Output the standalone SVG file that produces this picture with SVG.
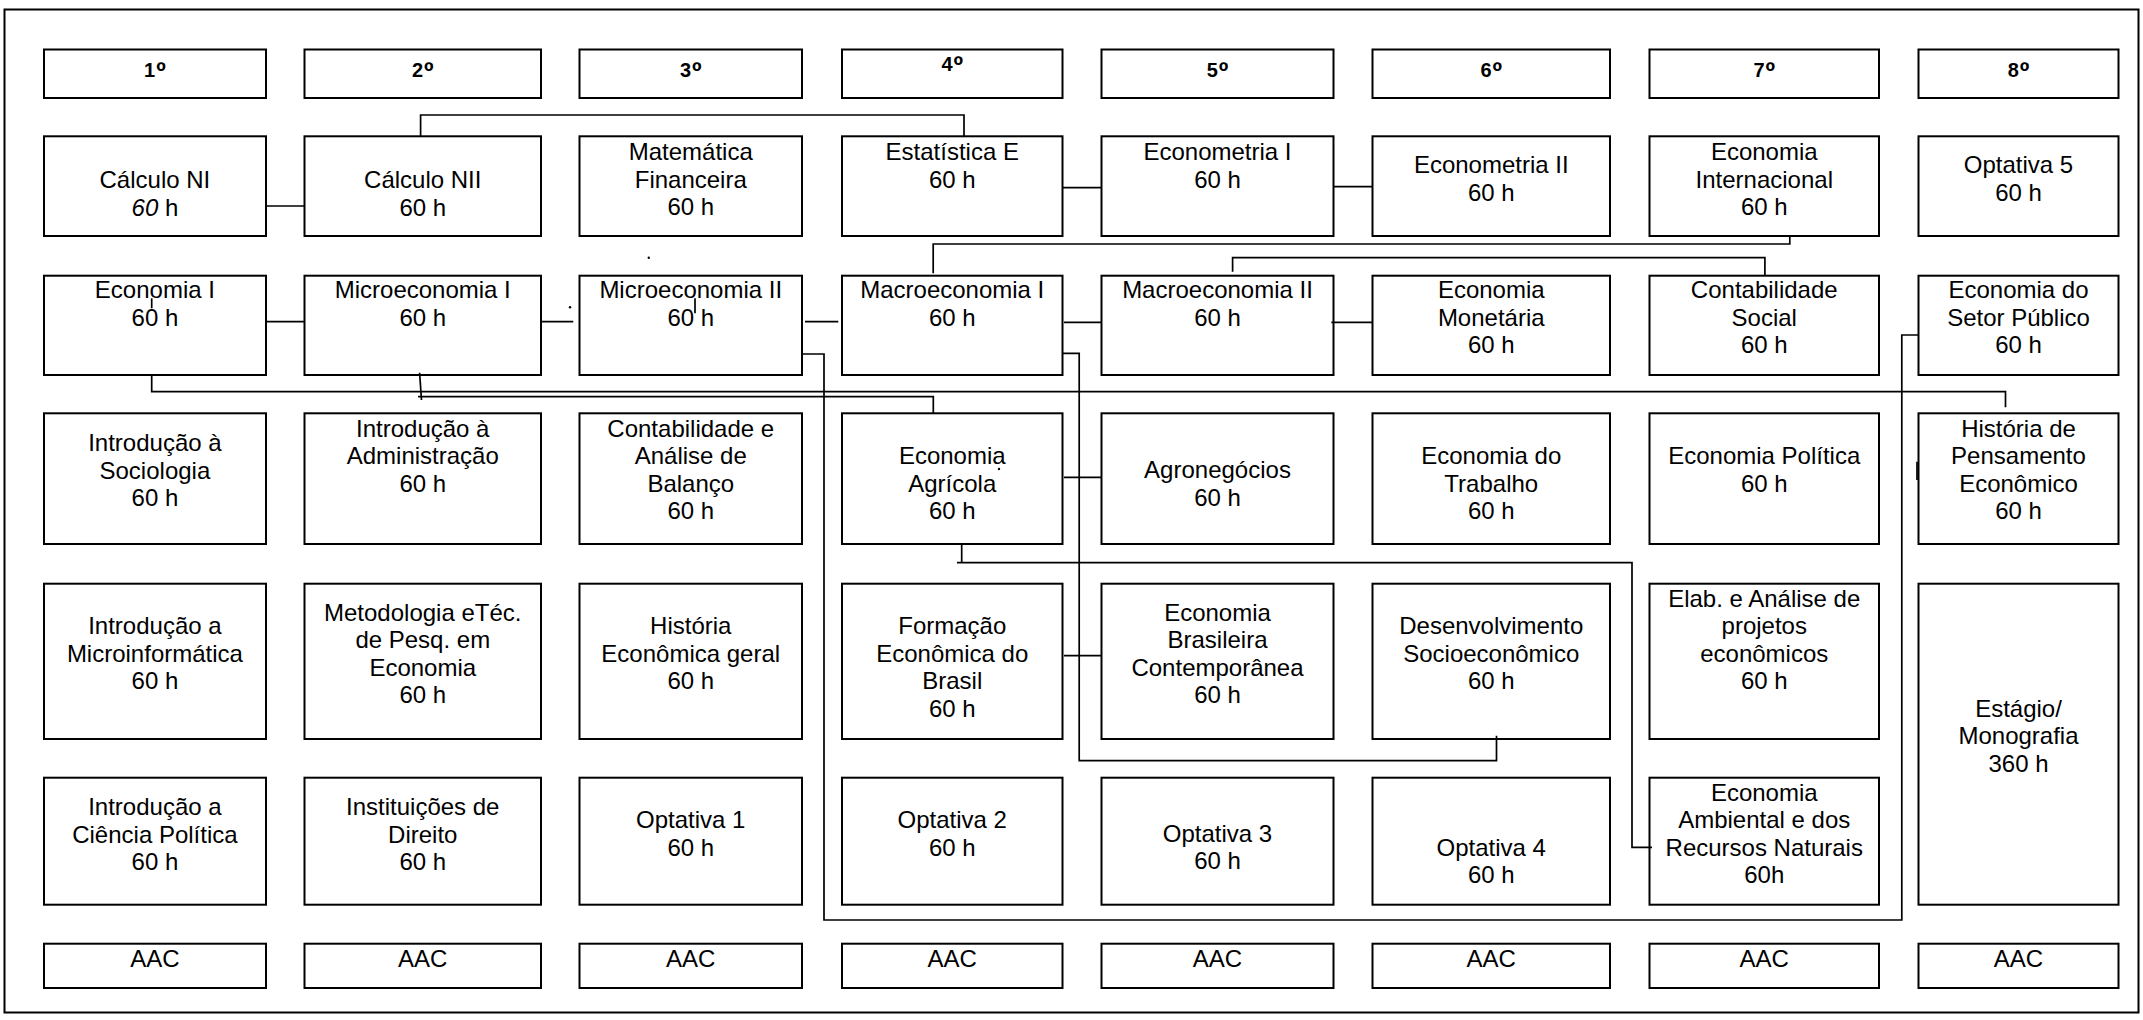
<svg xmlns="http://www.w3.org/2000/svg" width="2143" height="1020" viewBox="0 0 2143 1020">
<style>
.box{fill:#fff;stroke:#000;stroke-width:2}
.t{font-family:"Liberation Sans",Arial,sans-serif;font-size:24px;text-anchor:middle;fill:#000}
.h{font-weight:bold;font-size:20px}
.o{font-size:26px}
.c{fill:none;stroke:#000;stroke-width:1.7}
</style>
<rect x="0" y="0" width="2143" height="1020" fill="#fff"/>
<rect x="4.5" y="9.5" width="2134" height="1003" fill="none" stroke="#000" stroke-width="2"/>
<g id="headers">
<g id="h1"><rect class="box" x="44" y="49.5" width="222" height="48.5"/><text class="t h" x="154.9" y="76.5">1<tspan class="o" dx="1" dy="3">º</tspan></text></g>
<g id="h2"><rect class="box" x="304.5" y="49.5" width="236.5" height="48.5"/><text class="t h" x="422.75" y="76.5">2<tspan class="o" dx="1" dy="3">º</tspan></text></g>
<g id="h3"><rect class="box" x="579.5" y="49.5" width="222.5" height="48.5"/><text class="t h" x="690.75" y="76.5">3<tspan class="o" dx="1" dy="3">º</tspan></text></g>
<g id="h4"><rect class="box" x="842" y="49.5" width="220.5" height="48.5"/><text class="t h" x="952.25" y="71">4<tspan class="o" dx="1" dy="3">º</tspan></text></g>
<g id="h5"><rect class="box" x="1101.5" y="49.5" width="232" height="48.5"/><text class="t h" x="1217.5" y="76.5">5<tspan class="o" dx="1" dy="3">º</tspan></text></g>
<g id="h6"><rect class="box" x="1372.5" y="49.5" width="237.5" height="48.5"/><text class="t h" x="1491.25" y="76.5">6<tspan class="o" dx="1" dy="3">º</tspan></text></g>
<g id="h7"><rect class="box" x="1649.5" y="49.5" width="229.5" height="48.5"/><text class="t h" x="1764.25" y="76.5">7<tspan class="o" dx="1" dy="3">º</tspan></text></g>
<g id="h8"><rect class="box" x="1918.5" y="49.5" width="200" height="48.5"/><text class="t h" x="2018.5" y="76.5">8<tspan class="o" dx="1" dy="3">º</tspan></text></g>
</g>
<g id="row1">
<g id="calculo1"><rect class="box" x="44" y="136.3" width="222" height="99.7"/><text class="t" x="154.9" y="188.3">Cálculo NI</text><text class="t" x="154.9" y="216"><tspan font-style="italic">60</tspan> h</text></g>
<g id="calculo2"><rect class="box" x="304.5" y="136.3" width="236.5" height="99.7"/><text class="t" x="422.75" y="188.3">Cálculo NII</text><text class="t" x="422.75" y="216">60 h</text></g>
<g id="matfin"><rect class="box" x="579.5" y="136.3" width="222.5" height="99.7"/><text class="t" x="690.75" y="160">Matemática</text><text class="t" x="690.75" y="187.7">Financeira</text><text class="t" x="690.75" y="215">60 h</text></g>
<g id="estatistica"><rect class="box" x="842" y="136.3" width="220.5" height="99.7"/><text class="t" x="952.25" y="160">Estatística E</text><text class="t" x="952.25" y="187.7">60 h</text></g>
<g id="econometria1"><rect class="box" x="1101.5" y="136.3" width="232" height="99.7"/><text class="t" x="1217.5" y="160">Econometria I</text><text class="t" x="1217.5" y="187.7">60 h</text></g>
<g id="econometria2"><rect class="box" x="1372.5" y="136.3" width="237.5" height="99.7"/><text class="t" x="1491.25" y="173.3">Econometria II</text><text class="t" x="1491.25" y="201">60 h</text></g>
<g id="econinter"><rect class="box" x="1649.5" y="136.3" width="229.5" height="99.7"/><text class="t" x="1764.25" y="160">Economia</text><text class="t" x="1764.25" y="187.7">Internacional</text><text class="t" x="1764.25" y="215">60 h</text></g>
<g id="optativa5"><rect class="box" x="1918.5" y="136.3" width="200" height="99.7"/><text class="t" x="2018.5" y="173.3">Optativa 5</text><text class="t" x="2018.5" y="201">60 h</text></g>
</g>
<g id="row2">
<g id="economia1"><rect class="box" x="44" y="275.7" width="222" height="99.3"/><text class="t" x="154.9" y="298.3">Economia I</text><text class="t" x="154.9" y="325.7">60 h</text></g>
<g id="micro1"><rect class="box" x="304.5" y="275.7" width="236.5" height="99.3"/><text class="t" x="422.75" y="298.3">Microeconomia I</text><text class="t" x="422.75" y="325.7">60 h</text></g>
<g id="micro2"><rect class="box" x="579.5" y="275.7" width="222.5" height="99.3"/><text class="t" x="690.75" y="298.3">Microeconomia II</text><text class="t" x="690.75" y="325.7">60 h</text></g>
<g id="macro1"><rect class="box" x="842" y="275.7" width="220.5" height="99.3"/><text class="t" x="952.25" y="298.3">Macroeconomia I</text><text class="t" x="952.25" y="325.7">60 h</text></g>
<g id="macro2"><rect class="box" x="1101.5" y="275.7" width="232" height="99.3"/><text class="t" x="1217.5" y="298.3">Macroeconomia II</text><text class="t" x="1217.5" y="325.7">60 h</text></g>
<g id="econmonetaria"><rect class="box" x="1372.5" y="275.7" width="237.5" height="99.3"/><text class="t" x="1491.25" y="298.3">Economia</text><text class="t" x="1491.25" y="325.7">Monetária</text><text class="t" x="1491.25" y="353.3">60 h</text></g>
<g id="contsocial"><rect class="box" x="1649.5" y="275.7" width="229.5" height="99.3"/><text class="t" x="1764.25" y="298.3">Contabilidade</text><text class="t" x="1764.25" y="325.7">Social</text><text class="t" x="1764.25" y="353.3">60 h</text></g>
<g id="setorpublico"><rect class="box" x="1918.5" y="275.7" width="200" height="99.3"/><text class="t" x="2018.5" y="298.3">Economia do</text><text class="t" x="2018.5" y="325.7">Setor Público</text><text class="t" x="2018.5" y="353.3">60 h</text></g>
</g>
<g id="row3">
<g id="sociologia"><rect class="box" x="44" y="413.3" width="222" height="130.7"/><text class="t" x="154.9" y="451">Introdução à</text><text class="t" x="154.9" y="478.5">Sociologia</text><text class="t" x="154.9" y="506">60 h</text></g>
<g id="administracao"><rect class="box" x="304.5" y="413.3" width="236.5" height="130.7"/><text class="t" x="422.75" y="436.7">Introdução à</text><text class="t" x="422.75" y="464.3">Administração</text><text class="t" x="422.75" y="491.7">60 h</text></g>
<g id="contabilidade"><rect class="box" x="579.5" y="413.3" width="222.5" height="130.7"/><text class="t" x="690.75" y="436.7">Contabilidade e</text><text class="t" x="690.75" y="464.3">Análise de</text><text class="t" x="690.75" y="491.7">Balanço</text><text class="t" x="690.75" y="519.3">60 h</text></g>
<g id="agricola"><rect class="box" x="842" y="413.3" width="220.5" height="130.7"/><text class="t" x="952.25" y="464.3">Economia</text><text class="t" x="952.25" y="491.7">Agrícola</text><text class="t" x="952.25" y="519.3">60 h</text></g>
<g id="agronegocios"><rect class="box" x="1101.5" y="413.3" width="232" height="130.7"/><text class="t" x="1217.5" y="478.3">Agronegócios</text><text class="t" x="1217.5" y="505.7">60 h</text></g>
<g id="trabalho"><rect class="box" x="1372.5" y="413.3" width="237.5" height="130.7"/><text class="t" x="1491.25" y="464.3">Economia do</text><text class="t" x="1491.25" y="491.7">Trabalho</text><text class="t" x="1491.25" y="519.3">60 h</text></g>
<g id="politica"><rect class="box" x="1649.5" y="413.3" width="229.5" height="130.7"/><text class="t" x="1764.25" y="464.3">Economia Política</text><text class="t" x="1764.25" y="491.7">60 h</text></g>
<g id="pensamento"><rect class="box" x="1918.5" y="413.3" width="200" height="130.7"/><text class="t" x="2018.5" y="436.7">História de</text><text class="t" x="2018.5" y="464.3">Pensamento</text><text class="t" x="2018.5" y="491.7">Econômico</text><text class="t" x="2018.5" y="519.3">60 h</text></g>
</g>
<g id="row4">
<g id="microinformatica"><rect class="box" x="44" y="583.7" width="222" height="155.3"/><text class="t" x="154.9" y="634.3">Introdução a</text><text class="t" x="154.9" y="661.7">Microinformática</text><text class="t" x="154.9" y="689">60 h</text></g>
<g id="metodologia"><rect class="box" x="304.5" y="583.7" width="236.5" height="155.3"/><text class="t" x="422.75" y="620.7">Metodologia eTéc.</text><text class="t" x="422.75" y="648.3">de Pesq. em</text><text class="t" x="422.75" y="675.7">Economia</text><text class="t" x="422.75" y="703.3">60 h</text></g>
<g id="histeconomica"><rect class="box" x="579.5" y="583.7" width="222.5" height="155.3"/><text class="t" x="690.75" y="634.3">História</text><text class="t" x="690.75" y="661.7">Econômica geral</text><text class="t" x="690.75" y="689">60 h</text></g>
<g id="formacao"><rect class="box" x="842" y="583.7" width="220.5" height="155.3"/><text class="t" x="952.25" y="634.3">Formação</text><text class="t" x="952.25" y="661.7">Econômica do</text><text class="t" x="952.25" y="689">Brasil</text><text class="t" x="952.25" y="716.7">60 h</text></g>
<g id="brasileira"><rect class="box" x="1101.5" y="583.7" width="232" height="155.3"/><text class="t" x="1217.5" y="620.7">Economia</text><text class="t" x="1217.5" y="648.3">Brasileira</text><text class="t" x="1217.5" y="675.7">Contemporânea</text><text class="t" x="1217.5" y="703.3">60 h</text></g>
<g id="desenvolvimento"><rect class="box" x="1372.5" y="583.7" width="237.5" height="155.3"/><text class="t" x="1491.25" y="634.3">Desenvolvimento</text><text class="t" x="1491.25" y="661.7">Socioeconômico</text><text class="t" x="1491.25" y="689">60 h</text></g>
<g id="projetos"><rect class="box" x="1649.5" y="583.7" width="229.5" height="155.3"/><text class="t" x="1764.25" y="606.7">Elab. e Análise de</text><text class="t" x="1764.25" y="634.3">projetos</text><text class="t" x="1764.25" y="661.7">econômicos</text><text class="t" x="1764.25" y="689">60 h</text></g>
<g id="estagio"><rect class="box" x="1918.5" y="583.7" width="200" height="321"/><text class="t" x="2018.5" y="716.7">Estágio/</text><text class="t" x="2018.5" y="744">Monografia</text><text class="t" x="2018.5" y="772.3">360 h</text></g>
</g>
<g id="row5">
<g id="cienciapolitica"><rect class="box" x="44" y="777.7" width="222" height="127"/><text class="t" x="154.9" y="815">Introdução a</text><text class="t" x="154.9" y="842.7">Ciência Política</text><text class="t" x="154.9" y="870">60 h</text></g>
<g id="direito"><rect class="box" x="304.5" y="777.7" width="236.5" height="127"/><text class="t" x="422.75" y="815">Instituições de</text><text class="t" x="422.75" y="842.7">Direito</text><text class="t" x="422.75" y="870">60 h</text></g>
<g id="optativa1"><rect class="box" x="579.5" y="777.7" width="222.5" height="127"/><text class="t" x="690.75" y="828.3">Optativa 1</text><text class="t" x="690.75" y="855.7">60 h</text></g>
<g id="optativa2"><rect class="box" x="842" y="777.7" width="220.5" height="127"/><text class="t" x="952.25" y="828.3">Optativa 2</text><text class="t" x="952.25" y="855.7">60 h</text></g>
<g id="optativa3"><rect class="box" x="1101.5" y="777.7" width="232" height="127"/><text class="t" x="1217.5" y="841.7">Optativa 3</text><text class="t" x="1217.5" y="869">60 h</text></g>
<g id="optativa4"><rect class="box" x="1372.5" y="777.7" width="237.5" height="127"/><text class="t" x="1491.25" y="855.7">Optativa 4</text><text class="t" x="1491.25" y="883.3">60 h</text></g>
<g id="ambiental"><rect class="box" x="1649.5" y="777.7" width="229.5" height="127"/><text class="t" x="1764.25" y="801">Economia</text><text class="t" x="1764.25" y="828.3">Ambiental e dos</text><text class="t" x="1764.25" y="855.7">Recursos Naturais</text><text class="t" x="1764.25" y="883.3">60h</text></g>
</g>
<g id="aac">
<g id="aac1"><rect class="box" x="44" y="943.7" width="222" height="44.3"/><text class="t" x="154.9" y="966.7">AAC</text></g>
<g id="aac2"><rect class="box" x="304.5" y="943.7" width="236.5" height="44.3"/><text class="t" x="422.75" y="966.7">AAC</text></g>
<g id="aac3"><rect class="box" x="579.5" y="943.7" width="222.5" height="44.3"/><text class="t" x="690.75" y="966.7">AAC</text></g>
<g id="aac4"><rect class="box" x="842" y="943.7" width="220.5" height="44.3"/><text class="t" x="952.25" y="966.7">AAC</text></g>
<g id="aac5"><rect class="box" x="1101.5" y="943.7" width="232" height="44.3"/><text class="t" x="1217.5" y="966.7">AAC</text></g>
<g id="aac6"><rect class="box" x="1372.5" y="943.7" width="237.5" height="44.3"/><text class="t" x="1491.25" y="966.7">AAC</text></g>
<g id="aac7"><rect class="box" x="1649.5" y="943.7" width="229.5" height="44.3"/><text class="t" x="1764.25" y="966.7">AAC</text></g>
<g id="aac8"><rect class="box" x="1918.5" y="943.7" width="200" height="44.3"/><text class="t" x="2018.5" y="966.7">AAC</text></g>
</g>
<g id="connectors">
<path class="c" d="M266,206 H304.5"/>
<path class="c" d="M420.6,136.3 V115 H964 V136.3"/>
<path class="c" d="M1062.5,187.7 H1101.5"/>
<path class="c" d="M1333.5,186.7 H1372.5"/>
<path class="c" d="M1789.8,236 V244 H933.2 V273.3"/>
<path class="c" d="M1764.9,275.7 V257.7 H1232.6 V271.7"/>
<path class="c" d="M266,321.7 H304.5"/>
<path class="c" d="M541,321.7 H573.3"/>
<path class="c" d="M805,321.7 H838.3"/>
<path class="c" d="M1064,322.3 H1101.5"/>
<path class="c" d="M1331.3,322.3 H1372.5"/>
<path class="c" d="M151.7,375 V391.7 H2005.5 V407.3"/>
<path class="c" d="M419.6,372.7 L421.5,400"/>
<path class="c" d="M418,396.7 H933.3 V413.3"/>
<path class="c" d="M802,354 H824 V920 H1901.8 V335 H1918.5"/>
<path class="c" d="M1062.5,353.3 H1079.2 V760.7 H1496.5 V735.7"/>
<path class="c" d="M1064,477.3 H1101.5"/>
<path class="c" d="M1064,655.7 H1101.5"/>
<path class="c" d="M961.7,544 V563"/>
<path class="c" d="M957,562.7 H1632 V847.3 H1652"/>
<path class="c" d="M151.7,298.3 V308.3"/>
<path class="c" d="M695,298.3 V313.3"/>
<path class="c" d="M1917,461.7 V480"/>
<circle cx="570" cy="307.3" r="1.2" fill="#000"/>
<circle cx="648.8" cy="257.7" r="1.2" fill="#000"/>
<circle cx="999" cy="469" r="1.2" fill="#000"/>
</g>
</svg>
